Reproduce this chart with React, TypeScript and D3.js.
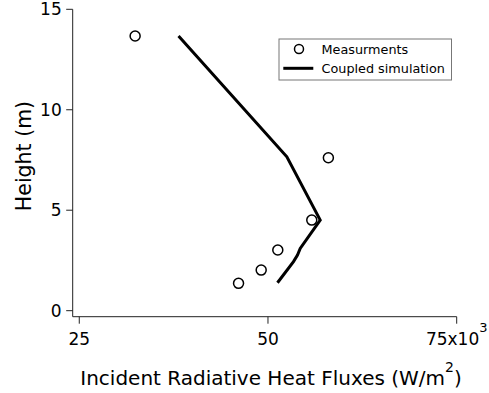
import { scaleLinear, line } from "d3"

const W = 489, H = 393
const FONT = "'DejaVu Sans', sans-serif"

// measurements (x in 10^3 W/m2, height m)
const measFlux = [32.4, 58.0, 55.8, 51.3, 49.1, 46.1]
const measHeight = [13.67, 7.61, 4.51, 3.02, 2.02, 1.36]

// coupled simulation profile
const simFlux = [38.15, 52.5, 56.92, 54.27, 53.91, 53.38, 51.26]
const simHeight = [13.67, 7.66, 4.51, 3.1, 2.77, 2.44, 1.39]

const xTicks = [25, 50, 75]
const yTicks = [0, 5, 10, 15]

export default function App() {
  const x = scaleLinear().domain([24.13, 75]).range([72.7, 456.7])
  const y = scaleLinear().domain([-0.3, 15]).range([316.7, 9.3])

  const simPts = simFlux.map((f, i) => [f, simHeight[i]] as [number, number])
  const path = line<[number, number]>()
    .x(d => x(d[0]))
    .y(d => y(d[1]))(simPts)

  const x0 = x.range()[0], x1 = x.range()[1]
  const yBot = y.range()[0], yTop = y(15)

  return (
    <svg width={W} height={H} style={{ position: "absolute", left: 0, top: 0, background: "#fff" }}
      fontFamily={FONT}>
      {/* axes */}
      <line x1={x0} x2={x0} y1={yTop} y2={yBot} stroke="#222" strokeWidth={1} />
      <line x1={x0} x2={x1} y1={yBot} y2={yBot} stroke="#222" strokeWidth={1} />

      {yTicks.map(t => (
        <g key={t} transform={`translate(${x0},${y(t)})`}>
          <line x1={-6.5} x2={0} stroke="#222" />
          <text x={-11} dy="0.36em" textAnchor="end" fontSize={17} fill="#000">{t}</text>
        </g>
      ))}

      {xTicks.map(t => (
        <g key={t} transform={`translate(${x(t)},${yBot})`}>
          <line y1={0} y2={7} stroke="#222" />
          <text y={28.3} textAnchor="middle" fontSize={17} fill="#000">
            {t === 75 ? <>{"75x10"}<tspan dy={-13} fontSize={13}>3</tspan></> : t}
          </text>
        </g>
      ))}

      {/* axis titles */}
      <text x={271} y={385} textAnchor="middle" fontSize={20} fill="#000">
        Incident Radiative Heat Fluxes (W/m<tspan dy={-13} fontSize={14}>2</tspan><tspan dy={13}>)</tspan>
      </text>
      <text transform={`translate(31,156) rotate(-90)`} textAnchor="middle" fontSize={20.5} fill="#000">
        Height (m)
      </text>

      {/* simulation line */}
      <path d={path ?? ""} fill="none" stroke="#000" strokeWidth={3} strokeLinejoin="miter" />

      {/* measurements */}
      {measFlux.map((f, i) => (
        <circle key={i} cx={x(f)} cy={y(measHeight[i])} r={5} fill="none" stroke="#000" strokeWidth={1.5} />
      ))}

      {/* legend */}
      <g>
        <rect x={279} y={39} width={172.5} height={41} fill="#fff" stroke="#777" strokeWidth={1} />
        <circle cx={299} cy={49} r={4.5} fill="none" stroke="#000" strokeWidth={1.5} />
        <text x={321.5} y={49} dy="0.36em" fontSize={12.8} fill="#000">Measurments</text>
        <line x1={283.3} x2={313.3} y1={68.3} y2={68.3} stroke="#000" strokeWidth={3} />
        <text x={321.5} y={68.3} dy="0.36em" fontSize={12.8} fill="#000">Coupled simulation</text>
      </g>
    </svg>
  )
}
